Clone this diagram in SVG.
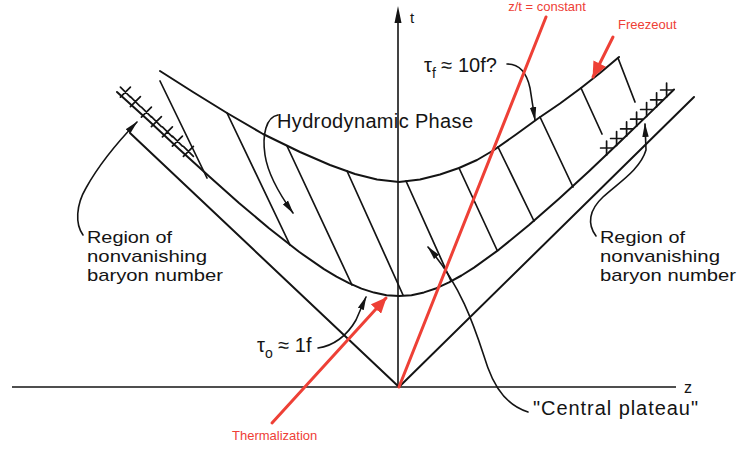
<svg xmlns="http://www.w3.org/2000/svg" width="742" height="449" viewBox="0 0 742 449">
<defs>
<style>
.ln{fill:none;stroke:#141414;stroke-width:2;stroke-linecap:round;stroke-linejoin:round}
.th{fill:none;stroke:#141414;stroke-width:1.7;stroke-linecap:round}
.ax{fill:none;stroke:#141414;stroke-width:1.6}
.ptr{fill:none;stroke:#141414;stroke-width:1.6;stroke-linecap:round}
.red{fill:none;stroke:#ee4036;stroke-width:3;stroke-linecap:round}
.lab{font-family:"Liberation Sans",Arial,sans-serif;font-size:20px;fill:#141414}
.reg{font-family:"Liberation Sans",Arial,sans-serif;font-size:17px;fill:#141414}
.rl{font-family:"Liberation Sans",Arial,sans-serif;font-size:13px;fill:#ee4036}
</style>
<marker id="ah" viewBox="0 0 14 8" refX="13" refY="4" markerWidth="14" markerHeight="8" markerUnits="userSpaceOnUse" orient="auto"><path d="M0,0.8 L14,4 L0,7.2 Z" fill="#141414"/></marker>
<marker id="rah" viewBox="0 0 16 14" refX="15" refY="7" markerWidth="16" markerHeight="14" markerUnits="userSpaceOnUse" orient="auto"><path d="M0,0 L16,7 L0,14 Z" fill="#ee4036"/></marker>
</defs>
<rect width="742" height="449" fill="#ffffff"/>

<g id="axes">
<path class="ax" d="M12,387 L676,387"/>
<path class="ax" d="M398,387 L398,20"/>
<path d="M398,6 L394.5,23 L401.5,23 Z" fill="#141414"/>
<text class="lab" x="410" y="23" style="font-size:15px">t</text>
<text class="lab" x="684" y="393" style="font-size:16px">z</text>
</g>

<g id="light-cone">
<path class="ln" d="M130,133 L399,387 L694,97"/>
</g>

<g id="tau0-hyperbola">
<path class="ln" d="M117,92 L149,121 L179,148.9 L209,176.3 L239,202.9 L269,228.3 L299,251.8 L324,269.1 L336.5,276.6 L349,283.2 L361.5,288.6 L374,292.6 L386.5,295.2 L399,296 L411.5,295.2 L424,292.4 L436.5,288.2 L449,282.4 L461.5,275.5 L474,267.6 L499,249.6 L529,225.1 L559,198.7 L589,171.2 L619,142.8 L649,113.9 L674,89.5"/>
</g>

<g id="tauf-hyperbola">
<path class="ln" d="M160,71 L193,92 L227,113 L263,134 L300,152 L330,165 L355,174 L377,179.5 L399,182 L420,179.5 L440,174.5 L459,168 L477,160 L494,150 L516,134.5 L538,118.5 L560,103.5 L581,88 L600,73 L619,57"/>
</g>

<g id="hatching">
<path class="th" d="M160,81 L207,178 M227,113 L290,245 M287,146 L352,285 M347,171 L403,295 M406,181 L451,281 M459,168 L497,250 M498,147 L534,221 M540,117 L573,187 M581,88 L602,134 M618,58 L635,102"/>
</g>

<g id="baryon-crosses-left">
<path class="th" d="M120.4,87.2 l10,10 m0,-10 l-10,10 M130.4,96.7 l10,10 m0,-10 l-10,10 M141.4,107.1 l10,10 m0,-10 l-10,10 M151.4,116.6 l10,10 m0,-10 l-10,10 M162.4,126.8 l10,10 m0,-10 l-10,10 M172.4,136.1 l10,10 m0,-10 l-10,10 M183.4,146.3 l10,10 m0,-10 l-10,10"/>
</g>

<g id="baryon-crosses-right">
<path class="th" d="M606.6,141 v14 M600.6,148 h12 M616.6,131.5 v14 M610.6,138.5 h12 M626.6,121.9 v14 M620.6,128.9 h12 M636.6,112.2 v14 M630.6,119.2 h12 M646.6,102.5 v14 M640.6,109.5 h12 M656.6,92.8 v14 M650.6,99.8 h12 M666.6,83 v14 M660.6,90 h12"/>
</g>

<g id="connectors">
<path class="ptr" d="M278,115 C266,117 262,135 265,155 C268,175 280,195 293,213" marker-end="url(#ah)"/>
<path class="ptr" d="M507,64 C520,64 527,74 530,88 L535,120" marker-end="url(#ah)"/>
<path class="ptr" d="M318,348 C333,346 347,336 356,320 L366,297" marker-end="url(#ah)"/>
<path class="ptr" d="M83,235 C75,224 76,205 86,188 C96,170 110,150 137,122" marker-end="url(#ah)"/>
<path class="ptr" d="M596,236 C587,224 589,210 603,197 C618,183 640,170 646,150 L645,124" marker-end="url(#ah)"/>
<path class="ptr" d="M528,412 C508,406 496,390 488,368 C477,336 465,290 428,247" marker-end="url(#ah)"/>
<path class="red" d="M399,387 L546,17"/>
<path class="red" d="M272,423 L386,298" marker-end="url(#rah)"/>
<path class="red" d="M613,37 L593,77" marker-end="url(#rah)"/>
</g>

<g id="labels">
<text class="lab" x="277" y="128" textLength="196" lengthAdjust="spacing">Hydrodynamic Phase</text>
<text class="lab" x="424" y="72">τ<tspan dy="6" style="font-size:14px">f</tspan><tspan dy="-6"> ≈ 10f?</tspan></text>
<text class="lab" x="257" y="352">τ<tspan dy="6" style="font-size:14px">o</tspan><tspan dy="-6"> ≈ 1f</tspan></text>
<text class="reg" x="87" y="243" textLength="85" lengthAdjust="spacingAndGlyphs">Region of</text>
<text class="reg" x="87" y="262" textLength="120" lengthAdjust="spacingAndGlyphs">nonvanishing</text>
<text class="reg" x="87" y="281" textLength="136" lengthAdjust="spacingAndGlyphs">baryon number</text>
<text class="reg" x="600" y="243" textLength="85" lengthAdjust="spacingAndGlyphs">Region of</text>
<text class="reg" x="600" y="262" textLength="120" lengthAdjust="spacingAndGlyphs">nonvanishing</text>
<text class="reg" x="600" y="281" textLength="136" lengthAdjust="spacingAndGlyphs">baryon number</text>
<text class="lab" x="533" y="415" textLength="165" lengthAdjust="spacing">"Central plateau"</text>
<text class="rl" x="547" y="11" text-anchor="middle">z/t = constant</text>
<text class="rl" x="618" y="29">Freezeout</text>
<text class="rl" x="232" y="440">Thermalization</text>
</g>
</svg>
